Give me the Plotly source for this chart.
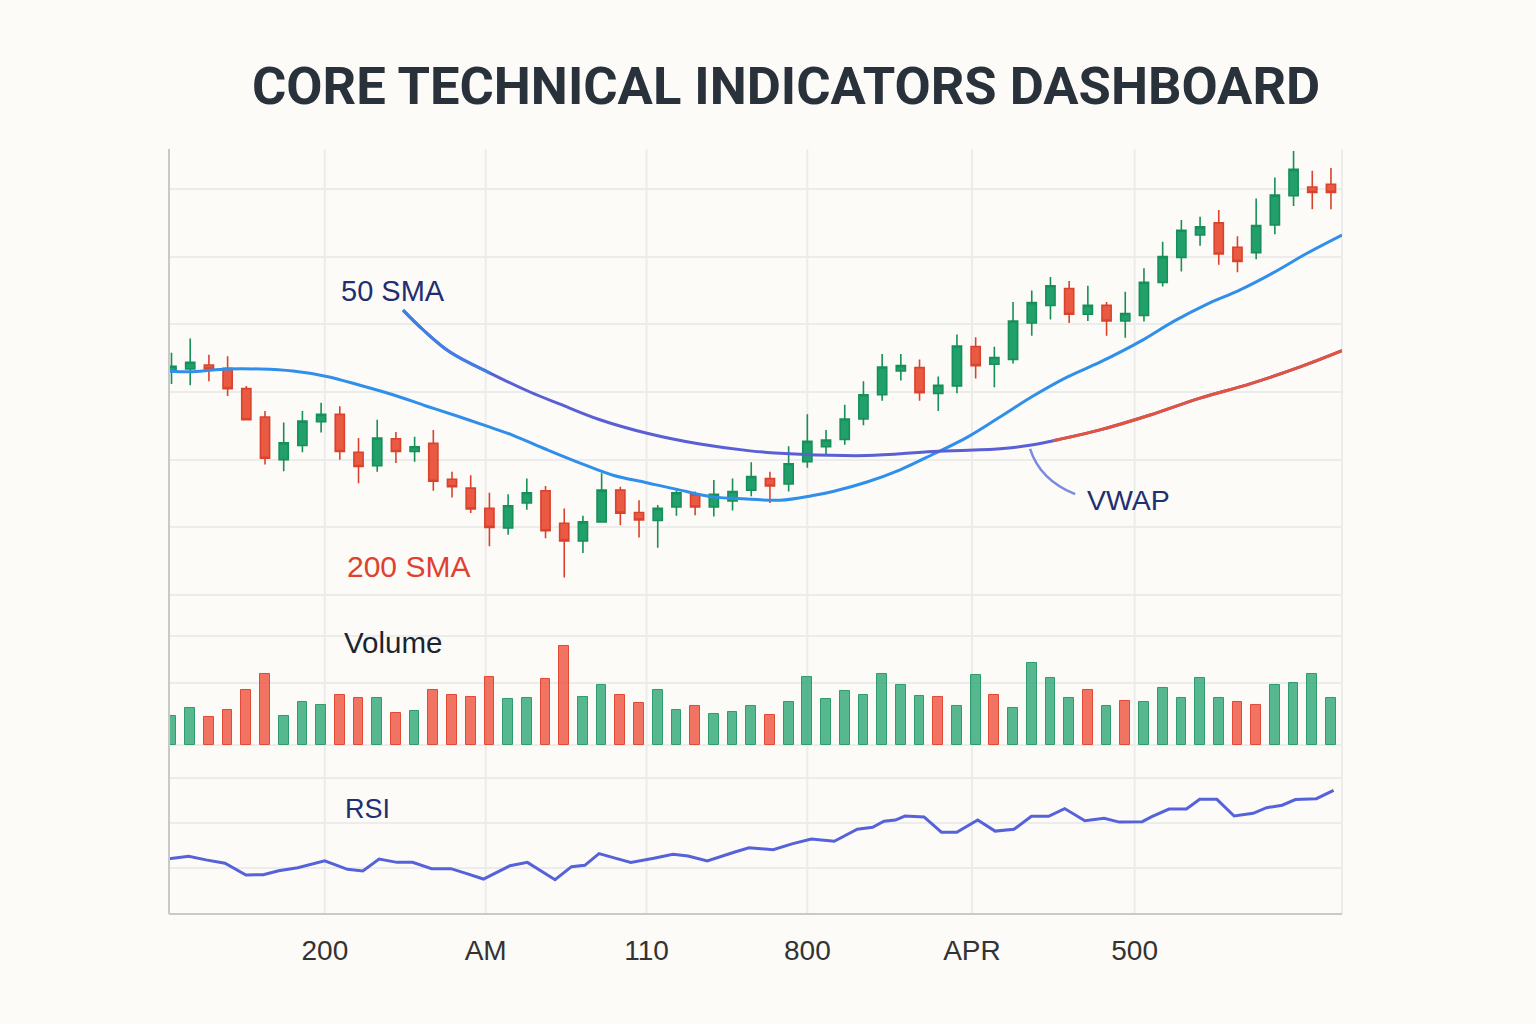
import plotly.graph_objects as go

# ---------------- data ----------------
session = list(range(1, 64))
open_ = [133.1, 133.4, 134.0, 133.5, 130.5, 126.3, 120.0, 122.1, 125.6, 126.7,
         121.1, 119.1, 123.1, 121.2, 122.4, 117.1, 115.8, 112.8, 109.9, 113.6,
         115.4, 110.6, 108.0, 110.8, 115.5, 112.2, 111.0, 113.0, 114.8, 113.0,
         113.9, 115.5, 117.2, 116.4, 119.7, 121.9, 123.0, 126.0, 129.6, 133.1,
         133.6, 129.8, 130.9, 136.7, 134.1, 134.8, 140.2, 142.8, 145.3, 141.5,
         142.8, 140.5, 141.3, 146.2, 149.9, 153.2, 155.0, 151.4, 150.6, 154.7,
         159.0, 160.3, 160.7]
high = [135.8, 137.9, 135.5, 135.3, 130.9, 127.2, 125.5, 127.2, 128.4, 127.9,
        123.2, 125.9, 124.1, 123.4, 124.4, 118.2, 117.7, 115.1, 114.9, 117.2,
        116.1, 112.8, 111.7, 118.0, 116.0, 114.0, 113.3, 115.8, 115.3, 117.0,
        117.2, 119.6, 118.2, 122.0, 126.7, 124.4, 128.1, 131.6, 135.6, 135.6,
        134.8, 132.3, 138.5, 138.1, 136.7, 143.3, 145.0, 147.0, 146.4, 145.7,
        143.3, 144.8, 148.3, 152.2, 155.4, 155.9, 156.9, 153.0, 158.6, 161.7,
        165.6, 162.7, 163.1]
low = [131.2, 131.0, 131.6, 129.4, 125.8, 119.3, 118.3, 121.1, 124.0, 120.0,
       116.5, 118.2, 119.5, 119.7, 115.4, 114.4, 112.1, 107.2, 108.9, 112.6,
       108.4, 102.6, 106.2, 110.7, 110.3, 108.5, 107.0, 111.7, 111.8, 111.6,
       112.5, 114.6, 113.6, 115.3, 118.8, 120.8, 122.2, 125.1, 128.7, 131.7,
       128.7, 127.2, 129.8, 132.0, 130.7, 134.2, 138.3, 140.7, 140.2, 140.5,
       138.3, 138.0, 140.4, 145.6, 147.8, 151.6, 148.8, 147.7, 149.6, 153.3,
       157.5, 157.0, 157.0]
close = [133.8, 134.4, 133.4, 130.5, 125.9, 120.2, 122.5, 125.7, 126.7, 121.2,
         119.0, 123.2, 121.2, 121.9, 116.8, 116.0, 112.7, 110.0, 113.2, 115.1,
         109.5, 108.0, 110.8, 115.5, 112.1, 111.1, 112.8, 115.1, 113.0, 114.9,
         115.3, 117.5, 116.1, 119.4, 122.7, 122.9, 126.0, 129.6, 133.7, 133.9,
         129.9, 131.0, 136.8, 133.9, 135.1, 140.5, 143.2, 145.7, 141.5, 142.8,
         140.5, 141.6, 146.2, 150.0, 153.9, 154.4, 150.4, 149.3, 154.6, 159.1,
         162.9, 159.5, 159.5]

volume = [29.0, 36.7, 27.7, 34.7, 55.0, 70.7, 29.0, 43.0, 40.0, 50.3,
          47.3, 46.7, 31.7, 34.0, 55.3, 49.7, 48.3, 67.7, 46.0, 46.7,
          65.7, 98.7, 47.7, 59.7, 49.7, 42.3, 55.0, 35.0, 39.0, 31.0,
          32.7, 39.0, 30.0, 42.7, 68.0, 46.0, 54.0, 50.0, 71.0, 60.3,
          49.3, 48.3, 38.7, 69.7, 50.0, 37.3, 82.0, 66.7, 47.0, 55.0,
          38.7, 44.0, 43.0, 57.0, 47.3, 66.7, 46.7, 43.3, 40.3, 60.0,
          62.0, 70.7, 46.7]
volume_dir = ["u", "u", "d", "d", "d", "d", "u", "u", "u", "d",
              "d", "u", "d", "u", "d", "d", "d", "d", "u", "u",
              "d", "d", "u", "u", "d", "d", "u", "u", "d", "u",
              "u", "u", "d", "u", "u", "u", "u", "u", "u", "u",
              "u", "d", "u", "u", "d", "u", "u", "u", "u", "d",
              "u", "d", "u", "u", "u", "u", "u", "d", "d", "u",
              "u", "u", "u"]

# light-blue moving average
ma_fast_x = [0.65, 2.15, 3.95, 5.73, 7.50, 9.30, 11.08, 12.84, 14.65, 16.43,
             18.03, 19.26, 21.06, 22.85, 24.61, 26.41, 28.19, 29.96, 31.76, 33.54,
             35.30, 36.37, 38.19, 39.96, 41.72, 43.54, 45.30, 47.07, 48.89, 50.65,
             52.95, 54.56, 56.38, 58.14, 59.90, 61.72, 63.59]
ma_fast = [133.1, 133.0, 133.4, 133.4, 133.1, 132.3, 131.0, 129.6, 127.9, 126.3,
           124.8, 123.6, 121.5, 119.5, 117.7, 116.6, 115.5, 114.5, 114.2, 114.0,
           114.7, 115.3, 116.7, 118.5, 120.8, 123.3, 126.3, 129.4, 132.2, 134.4,
           137.7, 140.4, 143.0, 145.1, 147.6, 150.5, 153.2]

# purple / red line
ma_slow_x = [13.38, 14.45, 15.89, 18.03, 20.17, 21.78, 23.91, 26.43, 29.26, 31.94,
             34.61, 38.19, 41.72, 45.30, 47.07, 48.14, 50.65, 53.33, 56.00, 58.67,
             61.35, 63.59]
ma_slow = [142.1, 139.2, 135.9, 132.8, 130.0, 128.2, 125.9, 123.9, 122.3, 121.3,
           120.8, 120.6, 121.2, 121.6, 122.2, 122.8, 124.4, 126.6, 129.1, 131.2,
           133.7, 136.1]

# RSI
rsi_x = [0.69, 1.92, 2.84, 3.86, 4.98, 5.91, 6.73, 7.75, 9.19, 10.41,
         11.23, 12.10, 13.06, 13.89, 14.91, 15.94, 16.75, 17.68, 19.10, 20.03,
         21.51, 22.39, 23.10, 23.86, 24.72, 25.56, 26.79, 27.81, 28.62, 29.65,
         31.08, 31.88, 33.17, 34.18, 35.21, 36.44, 37.67, 38.49, 39.10, 39.71,
         40.22, 41.24, 42.17, 42.99, 44.11, 45.04, 46.05, 46.98, 47.90, 48.76,
         49.84, 50.87, 51.68, 52.91, 53.42, 54.34, 55.27, 55.98, 56.90, 57.82,
         58.84, 59.56, 60.39, 61.10, 62.22, 63.14]
rsi = [43.9, 45.2, 43.6, 42.1, 36.9, 37.0, 38.8, 40.1, 43.2, 39.4,
       38.7, 44.0, 42.5, 42.5, 39.7, 39.7, 37.6, 35.1, 41.0, 42.5,
       34.8, 40.6, 41.2, 46.4, 44.4, 42.5, 44.3, 46.1, 45.3, 43.1,
       47.0, 49.0, 48.1, 50.7, 52.9, 51.9, 57.2, 58.1, 60.8, 61.3,
       63.1, 62.7, 55.9, 55.9, 61.3, 56.4, 57.2, 63.0, 63.0, 66.4,
       61.0, 62.1, 60.4, 60.6, 62.8, 66.2, 66.2, 70.5, 70.5, 63.1,
       64.3, 66.8, 67.9, 70.4, 70.8, 74.5]

tick_vals = [9.2, 17.8, 26.4, 35.0, 43.8, 52.5]
tick_text = ["200", "AM", "110", "800", "APR", "500"]

# ---------------- styling ----------------
BG = "#FCFBF7"
GRID = "#ECECEA"
AXIS = "#C9C9C9"
GREEN = "#22A06B"
GREEN_LINE = "#178F58"
RED = "#EA5A43"
RED_LINE = "#D9432E"

L, R, T, B = 169, 194, 149, 110
W, H = 1536, 1024
PW, PH = W - L - R, H - T - B


def paper(px, py):
    return (px - L) / PW, (H - B - py) / PH


fig = go.Figure()

fig.add_trace(go.Candlestick(
    x=session, open=open_, high=high, low=low, close=close,
    xaxis="x", yaxis="y3", whiskerwidth=0,
    increasing=dict(fillcolor=GREEN, line=dict(color=GREEN_LINE, width=1.6)),
    decreasing=dict(fillcolor=RED, line=dict(color=RED_LINE, width=1.6)),
    showlegend=False, hoverinfo="skip"))

fig.add_trace(go.Scatter(x=ma_fast_x, y=ma_fast, mode="lines", xaxis="x", yaxis="y3",
                         line=dict(color="#2F8FEA", width=3, shape="spline"),
                         showlegend=False, hoverinfo="skip"))

fig.add_trace(go.Scatter(x=ma_slow_x, y=ma_slow, mode="lines", xaxis="x", yaxis="y3",
                         line=dict(color="#5A5FD6", width=3, shape="spline"),
                         showlegend=False, hoverinfo="skip"))
fig.add_trace(go.Scatter(x=ma_slow_x[:4], y=ma_slow[:4], mode="lines", xaxis="x", yaxis="y3",
                         line=dict(color="#3F7FE6", width=3, shape="spline"),
                         showlegend=False, hoverinfo="skip"))
fig.add_trace(go.Scatter(x=ma_slow_x[15:], y=ma_slow[15:], mode="lines", xaxis="x", yaxis="y3",
                         line=dict(color="#E4533C", width=3, shape="spline"),
                         showlegend=False, hoverinfo="skip"))

vol_colors = ["rgba(40,165,115,0.78)" if d == "u" else "rgba(238,90,70,0.85)" for d in volume_dir]
vol_lines = ["#2E9C6E" if d == "u" else "#E04A36" for d in volume_dir]
fig.add_trace(go.Bar(x=session, y=volume, xaxis="x", yaxis="y2", width=0.52,
                     marker=dict(color=vol_colors, line=dict(color=vol_lines, width=1)),
                     showlegend=False, hoverinfo="skip"))

fig.add_trace(go.Scatter(x=rsi_x, y=rsi, mode="lines", xaxis="x", yaxis="y",
                         line=dict(color="#5562D9", width=3),
                         showlegend=False, hoverinfo="skip"))

shapes = []
for tv in tick_vals:
    shapes.append(dict(type="line", xref="x", yref="paper", x0=tv, x1=tv, y0=0, y1=1,
                       line=dict(color=GRID, width=2), layer="below"))
shapes.append(dict(type="line", xref="paper", yref="paper", x0=1, x1=1, y0=0, y1=1,
                   line=dict(color=GRID, width=2), layer="below"))
shapes.append(dict(type="line", xref="paper", yref="paper", x0=0, x1=0, y0=0, y1=1,
                   line=dict(color=AXIS, width=2)))
shapes.append(dict(type="line", xref="paper", yref="paper", x0=0, x1=1, y0=0, y1=0,
                   line=dict(color=AXIS, width=2)))
# VWAP leader
shapes.append(dict(type="path", xref="x", yref="y3",
                   path="M 46.91,121.6 Q 47.44,117.0 49.32,114.9",
                   line=dict(color="#7B8CE0", width=2.5)))

LABEL_FONT = "Liberation Sans, Arial, sans-serif"
annotations = []


def label(text, px, py, size, color, family=LABEL_FONT, weight=None):
    x, y = paper(px, py)
    f = dict(family=family, size=size, color=color)
    if weight:
        f["weight"] = weight
    annotations.append(dict(text=text, x=x, y=y, xref="paper", yref="paper",
                            xanchor="center", yanchor="middle", showarrow=False, font=f))


label("CORE TECHNICAL INDICATORS DASHBOARD", 786, 86, 52.5, "#29323A", family="Roboto", weight=700)
label("50 SMA", 393, 291, 29, "#1F2F72")
label("200 SMA", 408, 566, 30, "#E0402F")
label("Volume", 393, 642, 29.5, "#1C2430")
label("RSI", 367, 809, 27, "#1F2F72")
label("VWAP", 1128, 500, 28.5, "#1F2F72")

fig.update_layout(
    width=W, height=H,
    margin=dict(l=L, r=R, t=T, b=B, pad=0),
    paper_bgcolor=BG, plot_bgcolor=BG,
    shapes=shapes, annotations=annotations,
    bargap=0,
    xaxis=dict(range=[0.866, 63.59], tickvals=tick_vals, ticktext=tick_text,
               showgrid=False, zeroline=False, showline=False, ticks="",
               ticklabelstandoff=17,
               tickfont=dict(family=LABEL_FONT, size=28, color="#333333"),
               rangeslider=dict(visible=False), anchor="y", fixedrange=True),
    yaxis=dict(domain=[0, 0.1987], range=[19.56, 87.1], tickvals=[40, 60, 80],
               showgrid=True, gridcolor=GRID, gridwidth=2, zeroline=False,
               showticklabels=False, showline=False),
    yaxis2=dict(domain=[0.2170, 0.3948], range=[-3, 133], tickvals=[0, 62, 109],
                showgrid=True, gridcolor=GRID, gridwidth=2, zeroline=False,
                showticklabels=False, showline=False),
    yaxis3=dict(domain=[0.4039, 1.0], range=[98.52, 165.91], tick0=0, dtick=10,
                showgrid=True, gridcolor=GRID, gridwidth=2, zeroline=False,
                showticklabels=False, showline=False),
)

fig.write_html("out.html")
